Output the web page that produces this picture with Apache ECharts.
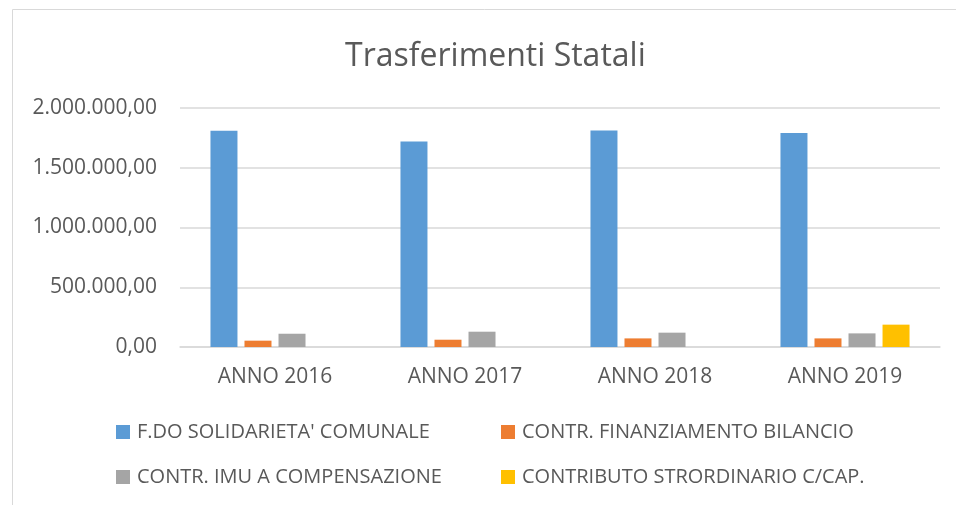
<!DOCTYPE html>
<html>
<head>
<meta charset="utf-8">
<script src="https://cdn.jsdelivr.net/npm/echarts@6/dist/echarts.min.js"></script>
<style>
  html, body { margin: 0; padding: 0; background: #fff; }
  #chart { width: 956px; height: 505px; }
</style>
</head>
<body>
<div id="chart"></div>
<script>
// dati
var anni = ['ANNO 2016', 'ANNO 2017', 'ANNO 2018', 'ANNO 2019']
var fondoSolidarieta = [1810000, 1720000, 1812000, 1791000]
var contrFinanziamento = [53000, 61000, 72000, 72000]
var contrImu = [111000, 128000, 120000, 114000]
var contributoStraord = [0, 0, 0, 187000]
var yTicks = [0, 500000, 1000000, 1500000, 2000000]

var nomi = [
  "F.DO SOLIDARIETA' COMUNALE",
  'CONTR. FINANZIAMENTO BILANCIO',
  'CONTR. IMU A COMPENSAZIONE',
  'CONTRIBUTO STRORDINARIO C/CAP.'
]
var colori = ['#5b9bd5', '#ed7d31', '#a5a5a5', '#ffc000']
var font = '"Open Sans", sans-serif'

function formatIt (v) {
  var s = Math.round(v).toString().replace(/\B(?=(\d{3})+(?!\d))/g, '.')
  return s + ',00'
}

var chart = echarts.init(document.getElementById('chart'))

// posizione delle voci di legenda (due colonne, due righe)
var legendPos = [
  {left: 116, top: 422},
  {left: 501, top: 422},
  {left: 116, top: 467},
  {left: 501, top: 467}
]

var option = {
  animation: false,
  title: {
    text: 'Trasferimenti Statali',
    left: 340,
    top: 36,
    textStyle: {fontFamily: font, fontSize: 32, fontWeight: 'normal', color: '#595959'}
  },
  graphic: [{
    type: 'rect',
    shape: {x: 12.5, y: 9.5, width: 960, height: 510},
    style: {fill: 'none', stroke: '#d9d9d9', lineWidth: 1},
    silent: true
  }],
  legend: legendPos.map(function (p, i) {
    return {
      data: [nomi[i]],
      left: p.left,
      top: p.top,
      padding: 0,
      itemWidth: 14,
      itemHeight: 14,
      icon: 'rect',
      textStyle: {fontFamily: font, fontSize: 20, lineHeight: 20, color: '#595959', padding: [0, 0, 0, 2]}
    }
  }),
  grid: {left: 180, right: 16, top: 108, bottom: 158},
  xAxis: {
    type: 'category',
    data: anni,
    axisTick: {show: false},
    axisLine: {lineStyle: {color: '#d9d9d9', width: 1.5}},
    axisLabel: {fontFamily: font, fontSize: 21, color: '#595959', margin: 20}
  },
  yAxis: {
    type: 'value',
    min: yTicks[0],
    max: yTicks[yTicks.length - 1],
    interval: yTicks[1] - yTicks[0],
    axisLine: {show: false},
    axisTick: {show: false},
    splitLine: {lineStyle: {color: '#d9d9d9', width: 1.5}},
    axisLabel: {fontFamily: font, fontSize: 21, color: '#595959', margin: 23, formatter: formatIt}
  },
  series: [fondoSolidarieta, contrFinanziamento, contrImu, contributoStraord].map(function (d, i) {
    return {
      name: nomi[i],
      type: 'bar',
      data: d,
      barWidth: 27,
      barGap: '26%',
      itemStyle: {color: colori[i]}
    }
  })
}

chart.setOption(option)
</script>
</body>
</html>
